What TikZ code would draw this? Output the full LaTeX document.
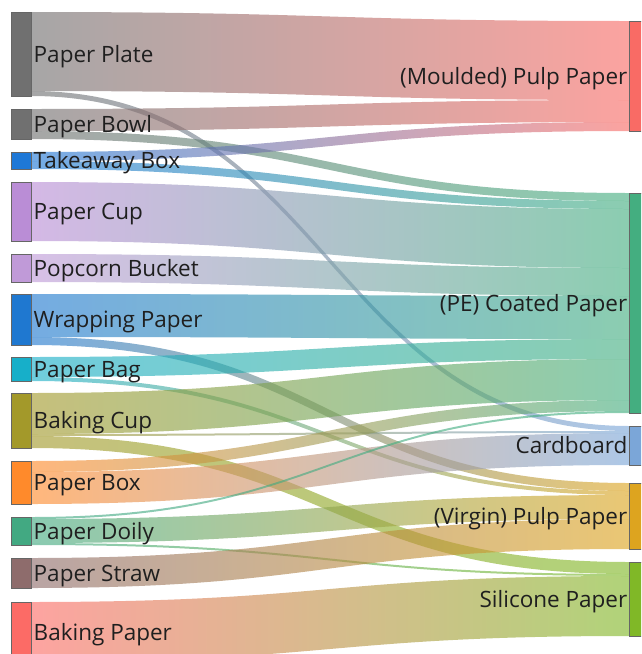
\documentclass[tikz,border=0pt]{standalone}
\usepackage{fontspec}
\setmainfont{Open Sans}
\usetikzlibrary{calc}

% node colours
\definecolor{cPlate}{HTML}{707070}
\definecolor{cBowl}{HTML}{707070}
\definecolor{cTake}{HTML}{1E78D7}
\definecolor{cCup}{HTML}{BA8DD6}
\definecolor{cPop}{HTML}{C09AD8}
\definecolor{cWrap}{HTML}{1F78D0}
\definecolor{cBag}{HTML}{17AFC9}
\definecolor{cBCup}{HTML}{A3992A}
\definecolor{cBox}{HTML}{FF8A2B}
\definecolor{cDoily}{HTML}{42A982}
\definecolor{cStraw}{HTML}{8E6C6C}
\definecolor{cBPaper}{HTML}{FC6B66}
\definecolor{cMould}{HTML}{F96B65}
\definecolor{cPE}{HTML}{44AE80}
\definecolor{cCard}{HTML}{7BA6D8}
\definecolor{cVirgin}{HTML}{DDA41F}
\definecolor{cSili}{HTML}{80B827}

\tikzset{
  bar/.style={rectangle, minimum width=20pt, inner sep=0pt, outer sep=0pt, anchor=north west},
  barfill/.style={draw=black!60, line width=0.6pt},
  lab/.style={font=\fontsize{22.5}{27}\selectfont, text=black!88, inner sep=0pt},
  band/.style={fill opacity=0.62, draw=none}
}

% \flow{source}{offset at source}{target}{offset at target}{width}{source colour}{target colour}
\newcommand\flow[7]{%
  \shade[band, left color=#6, right color=#7]
    let \p1=($(#1.north east)+(0,#2)$), \p2=($(#3.north west)+(0,#4)$) in
    (\x1,\y1) .. controls ({(\x1+\x2)/2},\y1) and ({(\x1+\x2)/2},\y2) .. (\x2,\y2)
    -- (\x2,{\y2-#5pt}) .. controls ({(\x1+\x2)/2},{\y2-#5pt}) and ({(\x1+\x2)/2},{\y1-#5pt}) .. (\x1,{\y1-#5pt})
    -- cycle;
}

\begin{document}
\begin{tikzpicture}[x=1pt, y=-1pt]
\useasboundingbox (0,0) rectangle (641,654);
\clip (0,0) rectangle (641,654);

% source bars (placement)
\node[bar, minimum height=84pt] (plate)   at (11,12)  {};
\node[bar, minimum height=30pt] (bowl)    at (11,109) {};
\node[bar, minimum height=17pt] (take)    at (11,152) {};
\node[bar, minimum height=59pt] (cup)     at (11,182) {};
\node[bar, minimum height=28pt] (pop)     at (11,254) {};
\node[bar, minimum height=51pt] (wrap)    at (11,294) {};
\node[bar, minimum height=24pt] (bag)     at (11,357) {};
\node[bar, minimum height=55pt] (bcup)    at (11,393) {};
\node[bar, minimum height=43pt] (box)     at (11,461) {};
\node[bar, minimum height=28pt] (doily)   at (11,517) {};
\node[bar, minimum height=30pt] (straw)   at (11,558) {};
\node[bar, minimum height=60pt] (bpaper)  at (11,602) {};

% material bars (placement)
\node[bar, minimum height=110pt] (mould)  at (629,21)  {};
\node[bar, minimum height=220pt] (pe)     at (629,193) {};
\node[bar, minimum height=39pt]  (card)   at (629,426) {};
\node[bar, minimum height=66pt]  (virgin) at (629,483) {};
\node[bar, minimum height=74pt]  (sili)   at (629,562) {};

% flows
\flow{plate}{0}{mould}{0}{79}{cPlate}{cMould}
\flow{plate}{79}{card}{0}{5}{cPlate}{cCard}
\flow{bowl}{0}{mould}{79}{22}{cBowl}{cMould}
\flow{bowl}{22}{pe}{0}{8}{cBowl}{cPE}
\flow{take}{0}{mould}{101}{9}{cTake}{cMould}
\flow{take}{9}{pe}{8}{8}{cTake}{cPE}
\flow{cup}{0}{pe}{16}{59}{cCup}{cPE}
\flow{pop}{0}{pe}{75}{28}{cPop}{cPE}
\flow{wrap}{0}{pe}{103}{43}{cWrap}{cPE}
\flow{wrap}{43}{virgin}{0}{8}{cWrap}{cVirgin}
\flow{bag}{0}{pe}{146}{20}{cBag}{cPE}
\flow{bag}{20}{virgin}{8}{4}{cBag}{cVirgin}
\flow{bcup}{0}{pe}{166}{41}{cBCup}{cPE}
\flow{bcup}{41}{card}{5}{2}{cBCup}{cCard}
\flow{bcup}{43}{sili}{0}{12}{cBCup}{cSili}
\flow{box}{0}{pe}{207}{11}{cBox}{cPE}
\flow{box}{11}{card}{7}{32}{cBox}{cCard}
\flow{doily}{0}{pe}{218}{2}{cDoily}{cPE}
\flow{doily}{2}{virgin}{12}{24}{cDoily}{cVirgin}
\flow{doily}{26}{sili}{12}{2}{cDoily}{cSili}
\flow{straw}{0}{virgin}{36}{30}{cStraw}{cVirgin}
\flow{bpaper}{0}{sili}{14}{60}{cBPaper}{cSili}

% bars drawn above the flows
\foreach \n/\c in {plate/cPlate,bowl/cBowl,take/cTake,cup/cCup,pop/cPop,wrap/cWrap,bag/cBag,
  bcup/cBCup,box/cBox,doily/cDoily,straw/cStraw,bpaper/cBPaper,
  mould/cMould,pe/cPE,card/cCard,virgin/cVirgin,sili/cSili}
  \draw[barfill, fill=\c] (\n.north west) rectangle (\n.south east);

% source labels
\foreach \n/\t in {plate/Paper Plate, bowl/Paper Bowl, take/Takeaway Box, cup/Paper Cup,
  pop/Popcorn Bucket, wrap/Wrapping Paper, bag/Paper Bag, bcup/Baking Cup, box/Paper Box,
  doily/Paper Doily, straw/Paper Straw, bpaper/Baking Paper}
  \node[lab, anchor=base west] at ($(\n.east)+(2.5,8)$) {\t};

% material labels
\foreach \n/\t in {mould/(Moulded) Pulp Paper, pe/(PE) Coated Paper, card/Cardboard,
  virgin/(Virgin) Pulp Paper, sili/Silicone Paper}
  \node[lab, anchor=base east] at ($(\n.west)+(-1.5,8)$) {\t};
\end{tikzpicture}
\end{document}
